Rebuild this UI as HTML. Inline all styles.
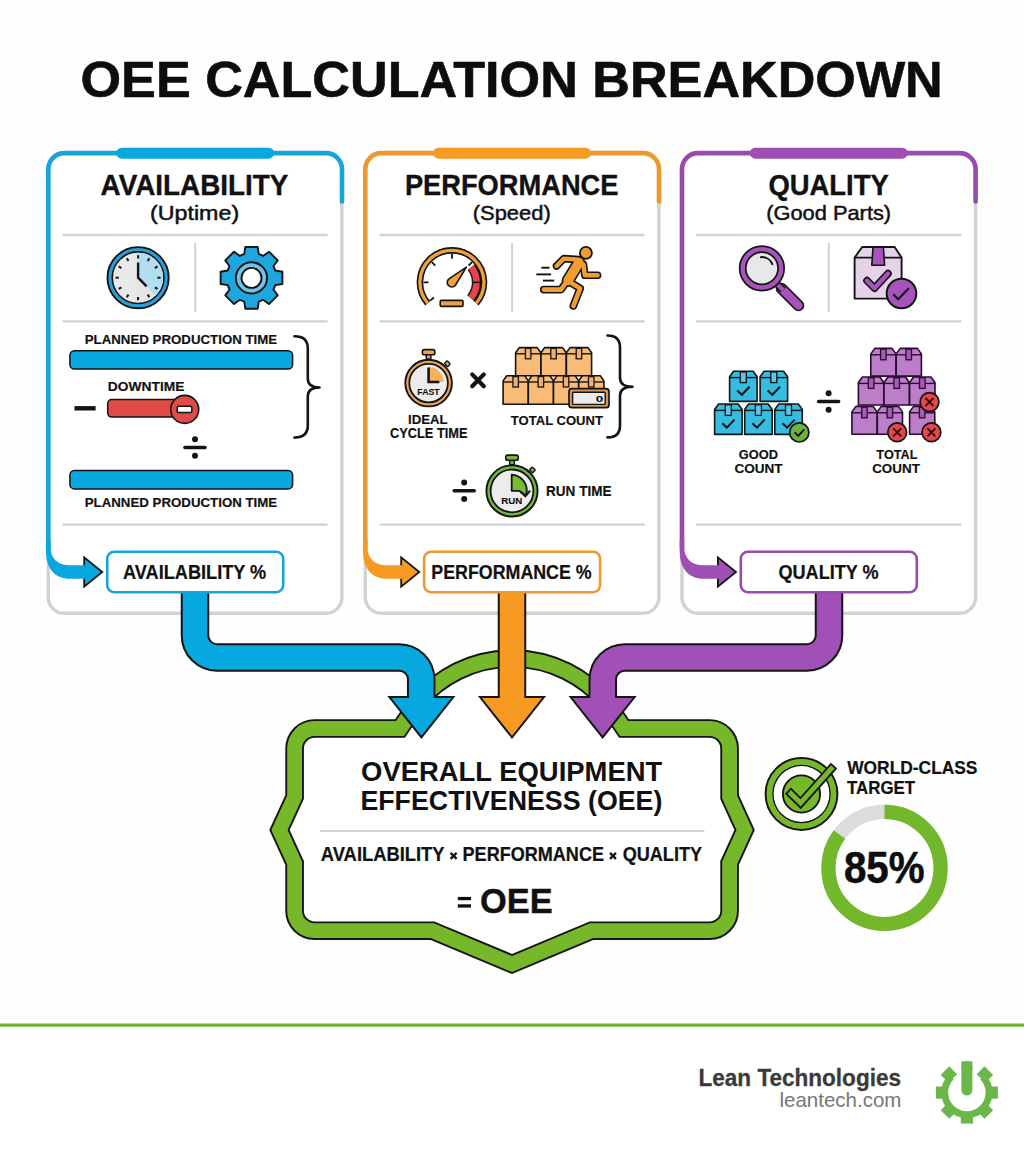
<!DOCTYPE html>
<html><head><meta charset="utf-8"><style>
html,body{margin:0;padding:0;background:#fefefe;overflow:hidden}
svg{display:block}
text{font-family:"Liberation Sans",sans-serif}
</style></head><body>
<svg width="1024" height="1154" viewBox="0 0 1024 1154">
<rect x="0" y="0" width="1024" height="1154" fill="#fefefe"/>
<rect x="0" y="1025" width="1024" height="129" fill="#ffffff"/>
<rect x="0" y="1023.5" width="1024" height="3.2" fill="#6cb525"/>
<text x="80.57" y="97.20" font-size="49.42" font-weight="700" fill="#0d0d0d" textLength="862.23" lengthAdjust="spacingAndGlyphs" stroke="#0d0d0d" stroke-width="0.59" stroke-linejoin="round">OEE CALCULATION BREAKDOWN</text>
<rect x="48.3" y="153.1" width="293.6" height="460.2" rx="16" fill="#ffffff" stroke="#d2d2d2" stroke-width="3.4"/>
<path d="M48.3,548 L48.3,169.1 A16,16 0 0 1 64.3,153.1 L326.0,153.1 A16,16 0 0 1 342.0,169.1 L342.0,201.5" fill="none" stroke="#17a4d8" stroke-width="4.6" stroke-linecap="round"/>
<rect x="116.2" y="147.7" width="158" height="11" rx="5.5" fill="#06a8df"/>
<line x1="62.7" y1="235.0" x2="327.6" y2="235.0" stroke="#d2d2d2" stroke-width="2.3"/>
<line x1="62.7" y1="321.4" x2="327.6" y2="321.4" stroke="#d2d2d2" stroke-width="2.3"/>
<line x1="62.7" y1="524.7" x2="327.6" y2="524.7" stroke="#d2d2d2" stroke-width="2.3"/>
<line x1="195.2" y1="243" x2="195.2" y2="312" stroke="#d2d2d2" stroke-width="2"/>
<text x="100.62" y="194.70" font-size="29.65" font-weight="700" fill="#111" textLength="187.72" lengthAdjust="spacingAndGlyphs" stroke="#111" stroke-width="0.36" stroke-linejoin="round">AVAILABILITY</text>
<text x="150.06" y="219.50" font-size="19.48" font-weight="400" fill="#111" textLength="89.08" lengthAdjust="spacingAndGlyphs" stroke="#111" stroke-width="0.45" stroke-linejoin="round">(Uptime)</text>
<path d="M84.2,557.3 L84.2,586.6 L102.3,572 Z" fill="#06a8df" stroke="#151515" stroke-width="1.8" stroke-linejoin="miter"/>
<path d="M46.0,540 L46.0,551 C46.0,568 54.3,578.8 70.3,578.8 L85.8,578.8 L85.8,565.3 L70.3,565.3 C58.3,565.3 50.5,559 50.5,547 L50.5,540 Z" fill="#06a8df"/>
<rect x="365.3" y="153.1" width="293.6" height="460.2" rx="16" fill="#ffffff" stroke="#d2d2d2" stroke-width="3.4"/>
<path d="M365.3,548 L365.3,169.1 A16,16 0 0 1 381.3,153.1 L643.0,153.1 A16,16 0 0 1 659.0,169.1 L659.0,201.5" fill="none" stroke="#ec982f" stroke-width="4.6" stroke-linecap="round"/>
<rect x="433.1" y="147.7" width="158" height="11" rx="5.5" fill="#f59a22"/>
<line x1="379.6" y1="235.0" x2="644.6" y2="235.0" stroke="#d2d2d2" stroke-width="2.3"/>
<line x1="379.6" y1="321.4" x2="644.6" y2="321.4" stroke="#d2d2d2" stroke-width="2.3"/>
<line x1="379.6" y1="524.7" x2="644.6" y2="524.7" stroke="#d2d2d2" stroke-width="2.3"/>
<line x1="512.1" y1="243" x2="512.1" y2="312" stroke="#d2d2d2" stroke-width="2"/>
<text x="404.88" y="194.70" font-size="29.65" font-weight="700" fill="#111" textLength="213.59" lengthAdjust="spacingAndGlyphs" stroke="#111" stroke-width="0.36" stroke-linejoin="round">PERFORMANCE</text>
<text x="472.74" y="219.50" font-size="19.48" font-weight="400" fill="#111" textLength="78.02" lengthAdjust="spacingAndGlyphs" stroke="#111" stroke-width="0.45" stroke-linejoin="round">(Speed)</text>
<path d="M401.2,557.3 L401.2,586.6 L419.3,572 Z" fill="#f59a22" stroke="#151515" stroke-width="1.8" stroke-linejoin="miter"/>
<path d="M363.0,540 L363.0,551 C363.0,568 371.3,578.8 387.3,578.8 L402.8,578.8 L402.8,565.3 L387.3,565.3 C375.3,565.3 367.5,559 367.5,547 L367.5,540 Z" fill="#f59a22"/>
<rect x="682.0" y="153.1" width="293.6" height="460.2" rx="16" fill="#ffffff" stroke="#d2d2d2" stroke-width="3.4"/>
<path d="M682.0,548 L682.0,169.1 A16,16 0 0 1 698.0,153.1 L959.6,153.1 A16,16 0 0 1 975.6,169.1 L975.6,201.5" fill="none" stroke="#974bac" stroke-width="4.6" stroke-linecap="round"/>
<rect x="749.8" y="147.7" width="158" height="11" rx="5.5" fill="#9f4fb4"/>
<line x1="696.3" y1="235.0" x2="961.3" y2="235.0" stroke="#d2d2d2" stroke-width="2.3"/>
<line x1="696.3" y1="321.4" x2="961.3" y2="321.4" stroke="#d2d2d2" stroke-width="2.3"/>
<line x1="696.3" y1="524.7" x2="961.3" y2="524.7" stroke="#d2d2d2" stroke-width="2.3"/>
<line x1="828.8" y1="243" x2="828.8" y2="312" stroke="#d2d2d2" stroke-width="2"/>
<text x="768.38" y="194.70" font-size="29.65" font-weight="700" fill="#111" textLength="120.37" lengthAdjust="spacingAndGlyphs" stroke="#111" stroke-width="0.36" stroke-linejoin="round">QUALITY</text>
<text x="766.15" y="219.50" font-size="19.48" font-weight="400" fill="#111" textLength="125.01" lengthAdjust="spacingAndGlyphs" stroke="#111" stroke-width="0.45" stroke-linejoin="round">(Good Parts)</text>
<path d="M717.9,557.3 L717.9,586.6 L736.0,572 Z" fill="#9f4fb4" stroke="#151515" stroke-width="1.8" stroke-linejoin="miter"/>
<path d="M679.7,540 L679.7,551 C679.7,568 688.0,578.8 704.0,578.8 L719.5,578.8 L719.5,565.3 L704.0,565.3 C692.0,565.3 684.2,559 684.2,547 L684.2,540 Z" fill="#9f4fb4"/>
<path d="M314.6,728.5 L400,728.5 L418,702.2 A123,123 0 0 1 606,702.2 L624,728.5 L709.6,728.5 A20,20 0 0 1 729.6,748.5 L729.6,797 L744.6,830 L729.6,863 L729.6,910.7 A20,20 0 0 1 709.6,930.7 L591.5,930.7 L512,964 L432.5,930.7 L314.6,930.7 A20,20 0 0 1 294.6,910.7 L294.6,863 L279.5,830 L294.6,797 L294.6,748.5 A20,20 0 0 1 314.6,728.5 Z" fill="#ffffff" stroke="#151515" stroke-width="18.6" stroke-linejoin="miter" stroke-miterlimit="10"/>
<path d="M314.6,728.5 L400,728.5 L418,702.2 A123,123 0 0 1 606,702.2 L624,728.5 L709.6,728.5 A20,20 0 0 1 729.6,748.5 L729.6,797 L744.6,830 L729.6,863 L729.6,910.7 A20,20 0 0 1 709.6,930.7 L591.5,930.7 L512,964 L432.5,930.7 L314.6,930.7 A20,20 0 0 1 294.6,910.7 L294.6,863 L279.5,830 L294.6,797 L294.6,748.5 A20,20 0 0 1 314.6,728.5 Z" fill="none" stroke="#77b82a" stroke-width="14.8" stroke-linejoin="miter" stroke-miterlimit="10"/>
<path d="M195,590 L195,635.4 A22,22 0 0 0 217,657.4 L399.2,657.4 A22,22 0 0 1 421.2,679.4 L421.2,699" fill="none" stroke="#151515" stroke-width="28.5" stroke-linejoin="round"/>
<path d="M195,590 L195,635.4 A22,22 0 0 0 217,657.4 L399.2,657.4 A22,22 0 0 1 421.2,679.4 L421.2,699" fill="none" stroke="#06a8df" stroke-width="24.5" stroke-linejoin="round"/>
<path d="M389.4,697.0 L453.4,697.0 L421.4,737.3 L389.4,697.0 Z" fill="#06a8df" stroke="#151515" stroke-width="2" stroke-linejoin="miter"/>
<rect x="409.1" y="694.5" width="24.5" height="4" fill="#06a8df"/>
<path d="M512,590 L512,699" fill="none" stroke="#151515" stroke-width="28.5" stroke-linejoin="round"/>
<path d="M512,590 L512,699" fill="none" stroke="#f79a22" stroke-width="24.5" stroke-linejoin="round"/>
<path d="M480.0,697.0 L544.0,697.0 L512.0,737.3 L480.0,697.0 Z" fill="#f79a22" stroke="#151515" stroke-width="2" stroke-linejoin="miter"/>
<rect x="499.8" y="694.5" width="24.5" height="4" fill="#f79a22"/>
<path d="M829,590 L829,635.4 A22,22 0 0 1 807,657.4 L624.8,657.4 A22,22 0 0 0 602.8,679.4 L602.8,699" fill="none" stroke="#151515" stroke-width="28.5" stroke-linejoin="round"/>
<path d="M829,590 L829,635.4 A22,22 0 0 1 807,657.4 L624.8,657.4 A22,22 0 0 0 602.8,679.4 L602.8,699" fill="none" stroke="#a050b6" stroke-width="24.5" stroke-linejoin="round"/>
<path d="M570.6,697.0 L634.6,697.0 L602.6,737.3 L570.6,697.0 Z" fill="#a050b6" stroke="#151515" stroke-width="2" stroke-linejoin="miter"/>
<rect x="590.4" y="694.5" width="24.5" height="4" fill="#a050b6"/>
<rect x="107.2" y="551.8" width="176" height="40.4" rx="7" fill="#ffffff" stroke="#17a4d8" stroke-width="2.6"/>
<text x="123.06" y="579.20" font-size="19.77" font-weight="700" fill="#111" textLength="143.21" lengthAdjust="spacingAndGlyphs" stroke="#111" stroke-width="0.24" stroke-linejoin="round">AVAILABILITY %</text>
<rect x="424.1" y="551.8" width="176" height="40.4" rx="7" fill="#ffffff" stroke="#ec982f" stroke-width="2.6"/>
<text x="431.31" y="579.20" font-size="19.77" font-weight="700" fill="#111" textLength="160.36" lengthAdjust="spacingAndGlyphs" stroke="#111" stroke-width="0.24" stroke-linejoin="round">PERFORMANCE %</text>
<rect x="740.8" y="551.8" width="176" height="40.4" rx="7" fill="#ffffff" stroke="#974bac" stroke-width="2.6"/>
<text x="778.46" y="579.20" font-size="19.77" font-weight="700" fill="#111" textLength="100.22" lengthAdjust="spacingAndGlyphs" stroke="#111" stroke-width="0.24" stroke-linejoin="round">QUALITY %</text>
<text x="361.08" y="780.60" font-size="28.05" font-weight="700" fill="#111" textLength="301.22" lengthAdjust="spacingAndGlyphs">OVERALL EQUIPMENT</text>
<text x="360.41" y="810.30" font-size="27.91" font-weight="700" fill="#111" textLength="301.92" lengthAdjust="spacingAndGlyphs">EFFECTIVENESS (OEE)</text>
<line x1="320" y1="831" x2="704.4" y2="831" stroke="#d2d2d2" stroke-width="1.8"/>
<text x="320.85" y="860.70" font-size="19.48" font-weight="700" fill="#111" textLength="123.74" lengthAdjust="spacingAndGlyphs" stroke="#111" stroke-width="0.23" stroke-linejoin="round">AVAILABILITY</text>
<text x="462.59" y="860.70" font-size="19.48" font-weight="700" fill="#111" textLength="141.41" lengthAdjust="spacingAndGlyphs" stroke="#111" stroke-width="0.23" stroke-linejoin="round">PERFORMANCE</text>
<text x="622.66" y="860.70" font-size="19.48" font-weight="700" fill="#111" textLength="79.43" lengthAdjust="spacingAndGlyphs" stroke="#111" stroke-width="0.23" stroke-linejoin="round">QUALITY</text>
<path d="M450.6,852.9 L456.6,858.9 M456.6,852.9 L450.6,858.9" stroke="#111" stroke-width="2.2"/>
<path d="M610.0,852.9 L616.0,858.9 M616.0,852.9 L610.0,858.9" stroke="#111" stroke-width="2.2"/>
<text x="480.09" y="912.70" font-size="35.17" font-weight="700" fill="#111" textLength="72.66" lengthAdjust="spacingAndGlyphs" stroke="#111" stroke-width="0.42" stroke-linejoin="round">OEE</text>
<rect x="457.8" y="896.9" width="13.2" height="3.3" fill="#111"/><rect x="457.8" y="904.3" width="13.2" height="3.3" fill="#111"/>
<text x="847.18" y="774.30" font-size="18.31" font-weight="700" fill="#111" textLength="130.30" lengthAdjust="spacingAndGlyphs" stroke="#111" stroke-width="0.22" stroke-linejoin="round">WORLD-CLASS</text>
<text x="847.01" y="793.80" font-size="18.02" font-weight="700" fill="#111" textLength="68.16" lengthAdjust="spacingAndGlyphs" stroke="#111" stroke-width="0.22" stroke-linejoin="round">TARGET</text>
<circle cx="884.5" cy="867.9" r="56.1" fill="none" stroke="#dcdcdc" stroke-width="14.2"/>
<circle cx="884.5" cy="867.9" r="56.1" fill="none" stroke="#73b72a" stroke-width="14.2" stroke-dasharray="299.61 352.49" transform="rotate(-90 884.5 867.9)"/>
<text x="843.92" y="883.30" font-size="44.19" font-weight="700" fill="#0d0d0d" textLength="80.64" lengthAdjust="spacingAndGlyphs" stroke="#0d0d0d" stroke-width="0.53" stroke-linejoin="round">85%</text>
<text x="698.50" y="1085.70" font-size="23.26" font-weight="700" fill="#3a3a3a" textLength="202.51" lengthAdjust="spacingAndGlyphs" stroke="#3a3a3a" stroke-width="0.28" stroke-linejoin="round">Lean Technologies</text>
<text x="779.52" y="1106.70" font-size="21.00" font-weight="400" fill="#777777" textLength="121.93" lengthAdjust="spacingAndGlyphs">leantech.com</text>
<defs><linearGradient id="cf" x1="0" y1="0" x2="1" y2="0"><stop offset="0" stop-color="#ebebeb"/><stop offset="1" stop-color="#e2e2e2"/></linearGradient></defs>
<circle cx="138.1" cy="277.7" r="30.6" fill="#2a9fd9" stroke="#141414" stroke-width="1.9"/>
<circle cx="138.1" cy="277.7" r="25.8" fill="url(#cf)" stroke="#141414" stroke-width="1.6"/>
<path d="M138.1,277.7 L138.10,252.70 A25,25 0 0 1 155.47,295.68 Z" fill="#b3def2"/>
<line x1="138.10" y1="258.40" x2="138.10" y2="255.20" stroke="#141414" stroke-width="2"/>
<line x1="147.75" y1="260.99" x2="149.35" y2="258.21" stroke="#141414" stroke-width="2"/>
<line x1="154.81" y1="268.05" x2="157.59" y2="266.45" stroke="#141414" stroke-width="2"/>
<line x1="157.40" y1="277.70" x2="160.60" y2="277.70" stroke="#141414" stroke-width="2"/>
<line x1="154.81" y1="287.35" x2="157.59" y2="288.95" stroke="#141414" stroke-width="2"/>
<line x1="147.75" y1="294.41" x2="149.35" y2="297.19" stroke="#141414" stroke-width="2"/>
<line x1="138.10" y1="297.00" x2="138.10" y2="300.20" stroke="#141414" stroke-width="2"/>
<line x1="128.45" y1="294.41" x2="126.85" y2="297.19" stroke="#141414" stroke-width="2"/>
<line x1="121.39" y1="287.35" x2="118.61" y2="288.95" stroke="#141414" stroke-width="2"/>
<line x1="118.80" y1="277.70" x2="115.60" y2="277.70" stroke="#141414" stroke-width="2"/>
<line x1="121.39" y1="268.05" x2="118.61" y2="266.45" stroke="#141414" stroke-width="2"/>
<line x1="128.45" y1="260.99" x2="126.85" y2="258.21" stroke="#141414" stroke-width="2"/>
<path d="M138.1,262.5 L138.1,277.7 L146.6,286.4" fill="none" stroke="#141414" stroke-width="2.4" stroke-linejoin="miter"/>
<path d="M244.21,254.15 L245.34,246.96 L257.66,246.96 L258.79,254.15 A24.8,24.8 0 0 1 263.11,255.93 L268.99,251.65 L277.70,260.36 L273.42,266.24 A24.8,24.8 0 0 1 275.20,270.56 L282.39,271.69 L282.39,284.01 L275.20,285.14 A24.8,24.8 0 0 1 273.42,289.46 L277.70,295.34 L268.99,304.05 L263.11,299.77 A24.8,24.8 0 0 1 258.79,301.55 L257.66,308.74 L245.34,308.74 L244.21,301.55 A24.8,24.8 0 0 1 239.89,299.77 L234.01,304.05 L225.30,295.34 L229.58,289.46 A24.8,24.8 0 0 1 227.80,285.14 L220.61,284.01 L220.61,271.69 L227.80,270.56 A24.8,24.8 0 0 1 229.58,266.24 L225.30,260.36 L234.01,251.65 L239.89,255.93 A24.8,24.8 0 0 1 244.21,254.15 Z" fill="#1fa6df" stroke="#141414" stroke-width="1.9" stroke-linejoin="round"/>
<circle cx="251.5" cy="277.9" r="15.6" fill="#6fc2e8" stroke="#141414" stroke-width="1.9"/>
<circle cx="251.5" cy="277.9" r="10" fill="#ffffff" stroke="#141414" stroke-width="1.9"/>
<rect x="69.9" y="350.7" width="222.7" height="18.4" rx="4.5" fill="#06a8df" stroke="#141414" stroke-width="1.5"/>
<rect x="69.9" y="470.5" width="222.7" height="18.4" rx="4.5" fill="#06a8df" stroke="#141414" stroke-width="1.5"/>
<rect x="107.7" y="399.5" width="72" height="17.6" rx="4" fill="#e24a45" stroke="#141414" stroke-width="1.5"/>
<circle cx="184.7" cy="409.4" r="14" fill="#e24a45" stroke="#141414" stroke-width="1.6"/>
<rect x="177.2" y="406.3" width="14.6" height="6.2" rx="1.2" fill="#ffffff" stroke="#141414" stroke-width="1.5"/>
<line x1="74.5" y1="408.3" x2="95.6" y2="408.3" stroke="#141414" stroke-width="4.4"/>
<path d="M294.5,336.3 Q307.8,336.3 307.8,348.3 L307.8,378.5 Q307.8,387.5 319.5,387.5 Q307.8,387.5 307.8,396.5 L307.8,425.6 Q307.8,437.6 294.5,437.6" fill="none" stroke="#141414" stroke-width="2.6" stroke-linecap="round" stroke-linejoin="round"/>
<line x1="185.0" y1="447.5" x2="205.0" y2="447.5" stroke="#141414" stroke-width="3.6" stroke-linecap="round"/><circle cx="195.0" cy="439.2" r="3" fill="#141414"/><circle cx="195.0" cy="455.8" r="3" fill="#141414"/>
<text x="84.71" y="344.00" font-size="13.23" font-weight="700" fill="#111" textLength="192.51" lengthAdjust="spacingAndGlyphs" stroke="#111" stroke-width="0.16" stroke-linejoin="round">PLANNED PRODUCTION TIME</text>
<text x="107.88" y="390.90" font-size="13.37" font-weight="700" fill="#111" textLength="76.56" lengthAdjust="spacingAndGlyphs" stroke="#111" stroke-width="0.16" stroke-linejoin="round">DOWNTIME</text>
<text x="84.71" y="506.70" font-size="13.23" font-weight="700" fill="#111" textLength="192.51" lengthAdjust="spacingAndGlyphs" stroke="#111" stroke-width="0.16" stroke-linejoin="round">PLANNED PRODUCTION TIME</text>
<path d="M427.73,303.26 A32.0,32.0 0 1 1 476.17,303.26" fill="none" stroke="#141414" stroke-width="6.6"/>
<path d="M427.73,303.26 A32.0,32.0 0 1 1 476.17,303.26" fill="none" stroke="#f0a13e" stroke-width="3.4"/>
<path d="M471.34,267.20 A24.6,24.6 0 0 1 470.79,298.16" fill="none" stroke="#141414" stroke-width="9.4"/>
<path d="M471.34,267.20 A24.6,24.6 0 0 1 470.79,298.16" fill="none" stroke="#e5424a" stroke-width="6.6"/>
<line x1="471.95" y1="282.35" x2="480.95" y2="282.35" stroke="#141414" stroke-width="1.6"/>
<line x1="428.45" y1="282.35" x2="423.45" y2="282.35" stroke="#141414" stroke-width="1.8"/>
<line x1="435.33" y1="265.73" x2="431.80" y2="262.20" stroke="#141414" stroke-width="1.8"/>
<line x1="451.95" y1="258.85" x2="451.95" y2="253.85" stroke="#141414" stroke-width="1.8"/>
<line x1="468.57" y1="265.73" x2="472.10" y2="262.20" stroke="#141414" stroke-width="1.8"/>
<line x1="433.95" y1="297.46" x2="430.12" y2="300.67" stroke="#141414" stroke-width="1.8"/>
<path d="M466.38,267.09 L455.29,285.51 A4.6,4.6 0 1 1 448.61,279.19 Z" fill="#f0a13e" stroke="#141414" stroke-width="1.6" stroke-linejoin="round"/>
<rect x="440.2" y="300.4" width="22.8" height="6" rx="1.2" fill="#f0a13e" stroke="#141414" stroke-width="1.6"/>
<path d="M556.5,266.0 L563.8,258.6 L578.5,259.6" fill="none" stroke="#141414" stroke-width="7.6" stroke-linecap="round" stroke-linejoin="round"/><path d="M583.5,264.5 L584.8,275.3 L597.6,275.3" fill="none" stroke="#141414" stroke-width="7.6" stroke-linecap="round" stroke-linejoin="round"/><path d="M579.0,262.5 L568.0,280.5" fill="none" stroke="#141414" stroke-width="12.6" stroke-linecap="round" stroke-linejoin="round"/><path d="M567.5,280.5 L561.0,289.6 L543.8,289.6" fill="none" stroke="#141414" stroke-width="7.8" stroke-linecap="round" stroke-linejoin="round"/><path d="M568.0,281.0 L580.2,288.4 L573.4,305.8" fill="none" stroke="#141414" stroke-width="7.8" stroke-linecap="round" stroke-linejoin="round"/>
<path d="M556.5,266.0 L563.8,258.6 L578.5,259.6" fill="none" stroke="#f29d32" stroke-width="4.4" stroke-linecap="round" stroke-linejoin="round"/><path d="M583.5,264.5 L584.8,275.3 L597.6,275.3" fill="none" stroke="#f29d32" stroke-width="4.4" stroke-linecap="round" stroke-linejoin="round"/><path d="M579.0,262.5 L568.0,280.5" fill="none" stroke="#f29d32" stroke-width="9.4" stroke-linecap="round" stroke-linejoin="round"/><path d="M567.5,280.5 L561.0,289.6 L543.8,289.6" fill="none" stroke="#f29d32" stroke-width="4.6" stroke-linecap="round" stroke-linejoin="round"/><path d="M568.0,281.0 L580.2,288.4 L573.4,305.8" fill="none" stroke="#f29d32" stroke-width="4.6" stroke-linecap="round" stroke-linejoin="round"/>
<circle cx="585.9" cy="252.9" r="6" fill="#f29d32" stroke="#141414" stroke-width="1.8"/>
<line x1="541.3" y1="267.7" x2="549.5" y2="267.7" stroke="#141414" stroke-width="1.9"/>
<line x1="536.3" y1="274.4" x2="551.1" y2="274.4" stroke="#141414" stroke-width="1.9"/>
<line x1="542.9" y1="280.6" x2="554.2" y2="280.6" stroke="#141414" stroke-width="1.9"/>
<rect x="426.3" y="354.2" width="4.6" height="5.0" rx="1" fill="#eba358" stroke="#141414" stroke-width="1.5"/><rect x="422.4" y="349.6" width="12.4" height="5.2" rx="1.8" fill="#eba358" stroke="#141414" stroke-width="1.6"/><rect x="445.0" y="361.7" width="4.6" height="4" rx="0.8" fill="#eba358" stroke="#141414" stroke-width="1.4" transform="rotate(44 447.3 363.7)"/><circle cx="428.6" cy="383.1" r="23.3" fill="#eba358" stroke="#141414" stroke-width="1.9"/><circle cx="428.6" cy="383.1" r="19.3" fill="#ececec" stroke="#141414" stroke-width="1.8"/>
<path d="M428.6,382 L428.6,367 A15,15 0 0 1 443.6,382 Z" fill="#f6b255"/>
<path d="M428.6,367.4 L428.6,382 L439.3,382" fill="none" stroke="#141414" stroke-width="2.6"/>
<text x="417.33" y="394.50" font-size="8.58" font-weight="700" fill="#111" textLength="22.37" lengthAdjust="spacingAndGlyphs" stroke="#111" stroke-width="0.10" stroke-linejoin="round">FAST</text>
<path d="M472.2,374.4 L483.8,386.2 M483.8,374.4 L472.2,386.2" stroke="#141414" stroke-width="4.2" stroke-linecap="round"/>
<path d="M515.6,375.8 L515.6,352.7 L519.2,347.6 L537.2,347.6 L540.8,352.7 L540.8,375.8 Z" fill="#f9bc78" stroke="#141414" stroke-width="1.6" stroke-linejoin="round"/><line x1="515.6" y1="353.8" x2="540.8" y2="353.8" stroke="#141414" stroke-width="1.4"/><rect x="525.4" y="348.4" width="5.5" height="10.4" fill="#f2b070" stroke="#141414" stroke-width="1.3"/>
<path d="M541.0,375.8 L541.0,352.7 L544.6,347.6 L562.6,347.6 L566.2,352.7 L566.2,375.8 Z" fill="#f9bc78" stroke="#141414" stroke-width="1.6" stroke-linejoin="round"/><line x1="541.0" y1="353.8" x2="566.2" y2="353.8" stroke="#141414" stroke-width="1.4"/><rect x="550.8" y="348.4" width="5.5" height="10.4" fill="#f2b070" stroke="#141414" stroke-width="1.3"/>
<path d="M566.4,375.8 L566.4,352.7 L570.0,347.6 L588.0,347.6 L591.6,352.7 L591.6,375.8 Z" fill="#f9bc78" stroke="#141414" stroke-width="1.6" stroke-linejoin="round"/><line x1="566.4" y1="353.8" x2="591.6" y2="353.8" stroke="#141414" stroke-width="1.4"/><rect x="576.2" y="348.4" width="5.5" height="10.4" fill="#f2b070" stroke="#141414" stroke-width="1.3"/>
<path d="M503.1,404.2 L503.1,380.9 L506.7,375.8 L524.7,375.8 L528.3,380.9 L528.3,404.2 Z" fill="#f9bc78" stroke="#141414" stroke-width="1.6" stroke-linejoin="round"/><line x1="503.1" y1="382.0" x2="528.3" y2="382.0" stroke="#141414" stroke-width="1.4"/><rect x="512.9" y="376.6" width="5.5" height="10.4" fill="#f2b070" stroke="#141414" stroke-width="1.3"/>
<path d="M528.3,404.2 L528.3,380.9 L531.9,375.8 L549.9,375.8 L553.5,380.9 L553.5,404.2 Z" fill="#f9bc78" stroke="#141414" stroke-width="1.6" stroke-linejoin="round"/><line x1="528.3" y1="382.0" x2="553.5" y2="382.0" stroke="#141414" stroke-width="1.4"/><rect x="538.1" y="376.6" width="5.5" height="10.4" fill="#f2b070" stroke="#141414" stroke-width="1.3"/>
<path d="M553.5,404.2 L553.5,380.9 L557.1,375.8 L575.1,375.8 L578.7,380.9 L578.7,404.2 Z" fill="#f9bc78" stroke="#141414" stroke-width="1.6" stroke-linejoin="round"/><line x1="553.5" y1="382.0" x2="578.7" y2="382.0" stroke="#141414" stroke-width="1.4"/><rect x="563.3" y="376.6" width="5.5" height="10.4" fill="#f2b070" stroke="#141414" stroke-width="1.3"/>
<path d="M578.7,404.2 L578.7,380.9 L582.3,375.8 L600.3,375.8 L603.9,380.9 L603.9,404.2 Z" fill="#f9bc78" stroke="#141414" stroke-width="1.6" stroke-linejoin="round"/><line x1="578.7" y1="382.0" x2="603.9" y2="382.0" stroke="#141414" stroke-width="1.4"/><rect x="588.5" y="376.6" width="5.5" height="10.4" fill="#f2b070" stroke="#141414" stroke-width="1.3"/>
<rect x="569.0" y="388.7" width="40" height="19" rx="3" fill="#d99551" stroke="#141414" stroke-width="1.7"/>
<rect x="572.6" y="392.2" width="32.6" height="12.2" rx="1" fill="#ececec" stroke="#141414" stroke-width="1.4"/>
<text x="595.67" y="402.00" font-size="9.88" font-weight="700" fill="#111" textLength="7.48" lengthAdjust="spacingAndGlyphs" stroke="#111" stroke-width="0.12" stroke-linejoin="round">0</text>
<path d="M607.5,335.5 Q620.0,335.5 620.0,347.5 L620.0,377.7 Q620.0,386.7 632.5,386.7 Q620.0,386.7 620.0,395.7 L620.0,425.4 Q620.0,437.4 607.5,437.4" fill="none" stroke="#141414" stroke-width="2.6" stroke-linecap="round" stroke-linejoin="round"/>
<text x="408.12" y="423.60" font-size="13.52" font-weight="700" fill="#111" textLength="39.49" lengthAdjust="spacingAndGlyphs" stroke="#111" stroke-width="0.16" stroke-linejoin="round">IDEAL</text>
<text x="389.97" y="438.10" font-size="13.95" font-weight="700" fill="#111" textLength="77.53" lengthAdjust="spacingAndGlyphs" stroke="#111" stroke-width="0.17" stroke-linejoin="round">CYCLE TIME</text>
<text x="510.86" y="424.90" font-size="13.52" font-weight="700" fill="#111" textLength="92.08" lengthAdjust="spacingAndGlyphs" stroke="#111" stroke-width="0.16" stroke-linejoin="round">TOTAL COUNT</text>
<line x1="454.2" y1="490.8" x2="474.2" y2="490.8" stroke="#141414" stroke-width="3.6" stroke-linecap="round"/><circle cx="464.2" cy="482.5" r="3" fill="#141414"/><circle cx="464.2" cy="499.1" r="3" fill="#141414"/>
<rect x="509.7" y="459.7" width="4.6" height="5.0" rx="1" fill="#74b83c" stroke="#141414" stroke-width="1.5"/><rect x="505.8" y="455.1" width="12.4" height="5.2" rx="1.8" fill="#74b83c" stroke="#141414" stroke-width="1.6"/><rect x="530.1" y="467.9" width="4.6" height="4" rx="0.8" fill="#74b83c" stroke="#141414" stroke-width="1.4" transform="rotate(44 532.4 469.9)"/><circle cx="512.0" cy="490.9" r="25.6" fill="#74b83c" stroke="#141414" stroke-width="1.9"/><circle cx="512.0" cy="490.9" r="21.4" fill="#ececec" stroke="#141414" stroke-width="1.8"/>
<path d="M511.7,474.6 A16.2,16.2 0 0 1 526.8,491.5 L525.6,495.6 L519.2,490.8 L511.7,490.8 Z" fill="#76bd2e" stroke="#141414" stroke-width="1.8" stroke-linejoin="round"/>
<path d="M520.5,491.8 L525.4,496.2 L530.2,490.6" fill="none" stroke="#141414" stroke-width="2"/>
<text x="501.25" y="504.30" font-size="8.72" font-weight="700" fill="#111" textLength="21.00" lengthAdjust="spacingAndGlyphs" stroke="#111" stroke-width="0.10" stroke-linejoin="round">RUN</text>
<text x="546.10" y="495.70" font-size="14.24" font-weight="700" fill="#111" textLength="65.33" lengthAdjust="spacingAndGlyphs" stroke="#111" stroke-width="0.17" stroke-linejoin="round">RUN TIME</text>
<path d="M781.5,288.5 L798.5,305.5" stroke="#141414" stroke-width="11.6" stroke-linecap="round"/>
<path d="M781.5,288.5 L798.5,305.5" stroke="#a653bb" stroke-width="8.2" stroke-linecap="round"/>
<path d="M777.5,284.5 L783,290" stroke="#141414" stroke-width="7.4"/>
<path d="M777.5,284.5 L783,290" stroke="#a653bb" stroke-width="4.2"/>
<circle cx="761.9" cy="268.3" r="19.2" fill="#e8e8e8" stroke="#141414" stroke-width="7.8"/>
<circle cx="761.9" cy="268.3" r="19.2" fill="none" stroke="#a653bb" stroke-width="4.4"/>
<path d="M760.92,257.14 A11.2,11.2 0 0 1 772.28,264.10" fill="none" stroke="#141414" stroke-width="2" stroke-linecap="round"/>
<path d="M854.6,298.6 L854.6,257.6 L862.2,247.0 L894.6,247.0 L901.6,257.6 L901.6,298.6 Z" fill="#e5d3ea" stroke="#141414" stroke-width="1.9" stroke-linejoin="round"/>
<line x1="854.6" y1="257.6" x2="901.6" y2="257.6" stroke="#141414" stroke-width="1.7"/>
<path d="M873.0,247.2 L883.4,247.2 L884.6,265.2 L871.8,265.2 Z" fill="#a653bb" stroke="#141414" stroke-width="1.6" stroke-linejoin="round"/>
<path d="M867.0,280.6 L874.5,288.2 L888.0,273.6" fill="none" stroke="#141414" stroke-width="7.6" stroke-linecap="round" stroke-linejoin="round"/>
<path d="M867.0,280.6 L874.5,288.2 L888.0,273.6" fill="none" stroke="#a653bb" stroke-width="4.4" stroke-linecap="round" stroke-linejoin="round"/>
<circle cx="901.5" cy="293.5" r="14.8" fill="#a653bb" stroke="#141414" stroke-width="2"/>
<path d="M893.2,294.2 L898.2,299.2 L909.0,288.0" fill="none" stroke="#141414" stroke-width="2"/>
<path d="M729.6,401.4 L729.6,376.7 L733.6,371.2 L753.1,371.2 L757.1,376.7 L757.1,401.4 Z" fill="#34bde0" stroke="#141414" stroke-width="1.6" stroke-linejoin="round"/><line x1="729.6" y1="377.6" x2="757.1" y2="377.6" stroke="#141414" stroke-width="1.4"/><rect x="740.3" y="372.0" width="6.0" height="10.6" fill="#5cc5ea" stroke="#141414" stroke-width="1.3"/><path d="M737.2,390.5 L741.9,394.8 L749.5,386.8" fill="none" stroke="#141414" stroke-width="2"/>
<path d="M760.1,401.4 L760.1,376.7 L764.1,371.2 L783.6,371.2 L787.6,376.7 L787.6,401.4 Z" fill="#34bde0" stroke="#141414" stroke-width="1.6" stroke-linejoin="round"/><line x1="760.1" y1="377.6" x2="787.6" y2="377.6" stroke="#141414" stroke-width="1.4"/><rect x="770.8" y="372.0" width="6.0" height="10.6" fill="#5cc5ea" stroke="#141414" stroke-width="1.3"/><path d="M767.7,390.5 L772.4,394.8 L780.0,386.8" fill="none" stroke="#141414" stroke-width="2"/>
<path d="M714.6,434.4 L714.6,409.5 L718.6,404.0 L738.1,404.0 L742.1,409.5 L742.1,434.4 Z" fill="#34bde0" stroke="#141414" stroke-width="1.6" stroke-linejoin="round"/><line x1="714.6" y1="410.4" x2="742.1" y2="410.4" stroke="#141414" stroke-width="1.4"/><rect x="725.3" y="404.8" width="6.0" height="10.6" fill="#5cc5ea" stroke="#141414" stroke-width="1.3"/><path d="M722.2,423.3 L726.9,427.6 L734.5,419.6" fill="none" stroke="#141414" stroke-width="2"/>
<path d="M744.7,434.4 L744.7,409.5 L748.7,404.0 L768.2,404.0 L772.2,409.5 L772.2,434.4 Z" fill="#34bde0" stroke="#141414" stroke-width="1.6" stroke-linejoin="round"/><line x1="744.7" y1="410.4" x2="772.2" y2="410.4" stroke="#141414" stroke-width="1.4"/><rect x="755.4" y="404.8" width="6.0" height="10.6" fill="#5cc5ea" stroke="#141414" stroke-width="1.3"/><path d="M752.3,423.3 L757.0,427.6 L764.6,419.6" fill="none" stroke="#141414" stroke-width="2"/>
<path d="M774.8,434.4 L774.8,409.5 L778.8,404.0 L798.3,404.0 L802.3,409.5 L802.3,434.4 Z" fill="#34bde0" stroke="#141414" stroke-width="1.6" stroke-linejoin="round"/><line x1="774.8" y1="410.4" x2="802.3" y2="410.4" stroke="#141414" stroke-width="1.4"/><rect x="785.5" y="404.8" width="6.0" height="10.6" fill="#5cc5ea" stroke="#141414" stroke-width="1.3"/><path d="M782.4,423.3 L787.1,427.6 L794.7,419.6" fill="none" stroke="#141414" stroke-width="2"/>
<circle cx="799.3" cy="432.4" r="9.6" fill="#6cb33c" stroke="#141414" stroke-width="1.7"/>
<path d="M794.6,432.4 L798.2,435.8 L804.2,429.4" fill="none" stroke="#141414" stroke-width="1.9"/>
<line x1="818.6" y1="401.5" x2="838.6" y2="401.5" stroke="#141414" stroke-width="3.6" stroke-linecap="round"/><circle cx="828.6" cy="393.2" r="3" fill="#141414"/><circle cx="828.6" cy="409.8" r="3" fill="#141414"/>
<path d="M870.8,376.1 L870.8,353.9 L874.8,348.4 L892.0,348.4 L896.0,353.9 L896.0,376.1 Z" fill="#bc7dc9" stroke="#2a0c30" stroke-width="1.6" stroke-linejoin="round"/><line x1="870.8" y1="354.8" x2="896.0" y2="354.8" stroke="#2a0c30" stroke-width="1.4"/><rect x="880.6" y="349.2" width="5.5" height="10.6" fill="#a55bb8" stroke="#2a0c30" stroke-width="1.3"/>
<path d="M896.2,376.1 L896.2,353.9 L900.2,348.4 L917.4,348.4 L921.4,353.9 L921.4,376.1 Z" fill="#bc7dc9" stroke="#2a0c30" stroke-width="1.6" stroke-linejoin="round"/><line x1="896.2" y1="354.8" x2="921.4" y2="354.8" stroke="#2a0c30" stroke-width="1.4"/><rect x="906.0" y="349.2" width="5.5" height="10.6" fill="#a55bb8" stroke="#2a0c30" stroke-width="1.3"/>
<path d="M858.4,405.0 L858.4,382.5 L862.4,377.0 L879.8,377.0 L883.8,382.5 L883.8,405.0 Z" fill="#bc7dc9" stroke="#2a0c30" stroke-width="1.6" stroke-linejoin="round"/><line x1="858.4" y1="383.4" x2="883.8" y2="383.4" stroke="#2a0c30" stroke-width="1.4"/><rect x="868.3" y="377.8" width="5.6" height="10.6" fill="#a55bb8" stroke="#2a0c30" stroke-width="1.3"/>
<path d="M884.0,405.0 L884.0,382.5 L888.0,377.0 L905.4,377.0 L909.4,382.5 L909.4,405.0 Z" fill="#bc7dc9" stroke="#2a0c30" stroke-width="1.6" stroke-linejoin="round"/><line x1="884.0" y1="383.4" x2="909.4" y2="383.4" stroke="#2a0c30" stroke-width="1.4"/><rect x="893.9" y="377.8" width="5.6" height="10.6" fill="#a55bb8" stroke="#2a0c30" stroke-width="1.3"/>
<path d="M909.6,405.0 L909.6,382.5 L913.6,377.0 L931.0,377.0 L935.0,382.5 L935.0,405.0 Z" fill="#bc7dc9" stroke="#2a0c30" stroke-width="1.6" stroke-linejoin="round"/><line x1="909.6" y1="383.4" x2="935.0" y2="383.4" stroke="#2a0c30" stroke-width="1.4"/><rect x="919.5" y="377.8" width="5.6" height="10.6" fill="#a55bb8" stroke="#2a0c30" stroke-width="1.3"/>
<path d="M851.9,434.2 L851.9,411.9 L855.9,406.4 L873.1,406.4 L877.1,411.9 L877.1,434.2 Z" fill="#bc7dc9" stroke="#2a0c30" stroke-width="1.6" stroke-linejoin="round"/><line x1="851.9" y1="412.8" x2="877.1" y2="412.8" stroke="#2a0c30" stroke-width="1.4"/><rect x="861.7" y="407.2" width="5.5" height="10.6" fill="#a55bb8" stroke="#2a0c30" stroke-width="1.3"/>
<path d="M877.3,434.2 L877.3,411.9 L881.3,406.4 L898.5,406.4 L902.5,411.9 L902.5,434.2 Z" fill="#bc7dc9" stroke="#2a0c30" stroke-width="1.6" stroke-linejoin="round"/><line x1="877.3" y1="412.8" x2="902.5" y2="412.8" stroke="#2a0c30" stroke-width="1.4"/><rect x="887.1" y="407.2" width="5.5" height="10.6" fill="#a55bb8" stroke="#2a0c30" stroke-width="1.3"/>
<path d="M909.6,434.2 L909.6,411.9 L913.6,406.4 L930.8,406.4 L934.8,411.9 L934.8,434.2 Z" fill="#bc7dc9" stroke="#2a0c30" stroke-width="1.6" stroke-linejoin="round"/><line x1="909.6" y1="412.8" x2="934.8" y2="412.8" stroke="#2a0c30" stroke-width="1.4"/><rect x="919.4" y="407.2" width="5.5" height="10.6" fill="#a55bb8" stroke="#2a0c30" stroke-width="1.3"/>
<circle cx="929.5" cy="402.0" r="9.4" fill="#e2474b" stroke="#141414" stroke-width="1.7"/><path d="M925.5,398.0 L933.5,406.0 M933.5,398.0 L925.5,406.0" stroke="#3a0a0a" stroke-width="1.9"/>
<circle cx="897.2" cy="432.3" r="9.4" fill="#e2474b" stroke="#141414" stroke-width="1.7"/><path d="M893.2,428.3 L901.2,436.3 M901.2,428.3 L893.2,436.3" stroke="#3a0a0a" stroke-width="1.9"/>
<circle cx="931.4" cy="432.3" r="9.4" fill="#e2474b" stroke="#141414" stroke-width="1.7"/><path d="M927.4,428.3 L935.4,436.3 M935.4,428.3 L927.4,436.3" stroke="#3a0a0a" stroke-width="1.9"/>
<text x="738.87" y="458.70" font-size="12.94" font-weight="700" fill="#111" textLength="39.16" lengthAdjust="spacingAndGlyphs" stroke="#111" stroke-width="0.16" stroke-linejoin="round">GOOD</text>
<text x="734.44" y="472.90" font-size="12.94" font-weight="700" fill="#111" textLength="48.20" lengthAdjust="spacingAndGlyphs" stroke="#111" stroke-width="0.16" stroke-linejoin="round">COUNT</text>
<text x="876.36" y="458.70" font-size="12.94" font-weight="700" fill="#111" textLength="41.12" lengthAdjust="spacingAndGlyphs" stroke="#111" stroke-width="0.16" stroke-linejoin="round">TOTAL</text>
<text x="872.15" y="472.90" font-size="12.94" font-weight="700" fill="#111" textLength="47.69" lengthAdjust="spacingAndGlyphs" stroke="#111" stroke-width="0.16" stroke-linejoin="round">COUNT</text>
<circle cx="801.5" cy="794.0" r="32.1" fill="none" stroke="#141414" stroke-width="9.6"/>
<circle cx="801.5" cy="794.0" r="32.1" fill="none" stroke="#76b82a" stroke-width="5.8"/>
<circle cx="801.5" cy="794.0" r="27.9" fill="#ffffff"/>
<circle cx="801.5" cy="794.0" r="18.6" fill="#76b82a" stroke="#141414" stroke-width="1.9"/>
<path d="M791.0,793.6 L800.6,803.0 L831.2,768.8" fill="none" stroke="#141414" stroke-width="8.6" stroke-linejoin="miter" stroke-linecap="square"/>
<path d="M791.0,793.6 L800.6,803.0 L831.2,768.8" fill="none" stroke="#76b82a" stroke-width="5.0" stroke-linejoin="miter" stroke-linecap="square"/>
<path d="M982.60,1076.90 A22.2,22.2 0 1 1 951.20,1076.90" fill="none" stroke="#6ab84a" stroke-width="7.0"/>
<rect x="960.8" y="1061.6" width="12.2" height="11" fill="#6ab84a" transform="rotate(45 966.9 1092.6)"/>
<rect x="960.8" y="1061.6" width="12.2" height="11" fill="#6ab84a" transform="rotate(90 966.9 1092.6)"/>
<rect x="960.8" y="1061.6" width="12.2" height="11" fill="#6ab84a" transform="rotate(135 966.9 1092.6)"/>
<rect x="960.8" y="1061.6" width="12.2" height="11" fill="#6ab84a" transform="rotate(180 966.9 1092.6)"/>
<rect x="960.8" y="1061.6" width="12.2" height="11" fill="#6ab84a" transform="rotate(225 966.9 1092.6)"/>
<rect x="960.8" y="1061.6" width="12.2" height="11" fill="#6ab84a" transform="rotate(270 966.9 1092.6)"/>
<rect x="960.8" y="1061.6" width="12.2" height="11" fill="#6ab84a" transform="rotate(315 966.9 1092.6)"/>
<path d="M966.9,1066.5 L966.9,1090" stroke="#6ab84a" stroke-width="11" stroke-linecap="round"/>
<rect x="961.4" y="1061.3" width="11" height="8" fill="#6ab84a"/>
</svg></body></html>
